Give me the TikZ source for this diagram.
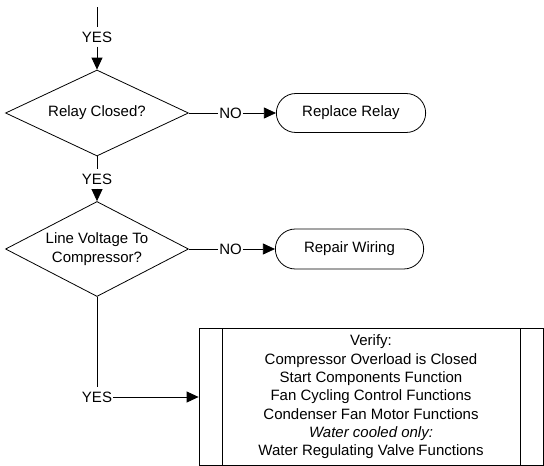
\documentclass[tikz,border=0pt]{standalone}
\usepackage{fontspec}
\setmainfont{Liberation Sans}
\usetikzlibrary{arrows.meta,shapes.geometric,shapes.misc}
\newcommand\colorFlow{black}
\newcommand\flowFont{\fontsize{15}{18.3}\selectfont}
\newcommand\flowWidth{0.8pt}
\newcommand\processInset{23pt}
\tikzset{
	decision/.style={draw=\colorFlow, line width=\flowWidth, diamond, aspect=2.13, inner sep=0pt,
		minimum width=183pt, minimum height=86pt, align=center, font=\flowFont},
	terminal/.style={draw=\colorFlow, line width=\flowWidth, rounded rectangle,
		minimum width=156pt, minimum height=39pt, font=\flowFont},
	process/.style={draw=\colorFlow, line width=\flowWidth, rectangle,
		minimum width=344pt, minimum height=137pt, align=center, font=\flowFont,
		path picture={
			\draw[line width=\flowWidth] ([xshift=\processInset]path picture bounding box.north west) to
			([xshift=\processInset]path picture bounding box.south west);
			\draw[line width=\flowWidth] ([xshift=-\processInset]path picture bounding box.north east) to
			([xshift=-\processInset]path picture bounding box.south east);
		}},
	flowlabel/.style={inner xsep=1pt, inner ysep=4pt, font=\flowFont},
	link/.style={draw=\colorFlow, line width=\flowWidth},
	flow/.style={link, -{Triangle[length=12pt,width=11pt]}}
}

\begin{document}
\begin{tikzpicture}[x=1pt, y=-1pt]
	\useasboundingbox (0,0) rectangle (544,466);
	
	\coordinate (entry) at (97,7);
	\node[flowlabel] (yesA) at (97,37) {YES};
	\node[decision] (relay) at (97,113) {Relay Closed?};
	\node[flowlabel] (noA) at (230.5,113) {NO};
	\node[terminal] (replace) at (351,113) {Replace Relay};
	
	\node[flowlabel] (yesB) at (97,179) {YES};
	\node[decision, minimum height=95pt] (voltage) at (97,249) {Line Voltage To\\Compressor?};
	\node[flowlabel] (noB) at (230.5,249) {NO};
	\node[terminal, minimum width=155pt, minimum height=40pt] (wiring) at (349.5,249) {Repair Wiring};
	
	\node[flowlabel] (yesC) at (97,397) {YES};
	\node[process] (verify) at (371,397) {Verify:\\
		Compressor Overload is Closed\\
		Start Components Function\\
		Fan Cycling Control Functions\\
		Condenser Fan Motor Functions\\
		\textit{Water cooled only:}\\
		Water Regulating Valve Functions};
	
	% connectors
	\draw[link] (entry) to (yesA);
	\draw[flow] (yesA) to (relay);
	\draw[link] (relay) to (noA);
	\draw[flow] (noA) to (replace);
	\draw[link] (relay) to (yesB);
	\draw[flow] (yesB) to (voltage);
	\draw[link] (voltage) to (noB);
	\draw[flow] (noB) to (wiring);
	\draw[link] (voltage) to (yesC);
	\draw[flow] (yesC) to (verify);
\end{tikzpicture}
\end{document}
